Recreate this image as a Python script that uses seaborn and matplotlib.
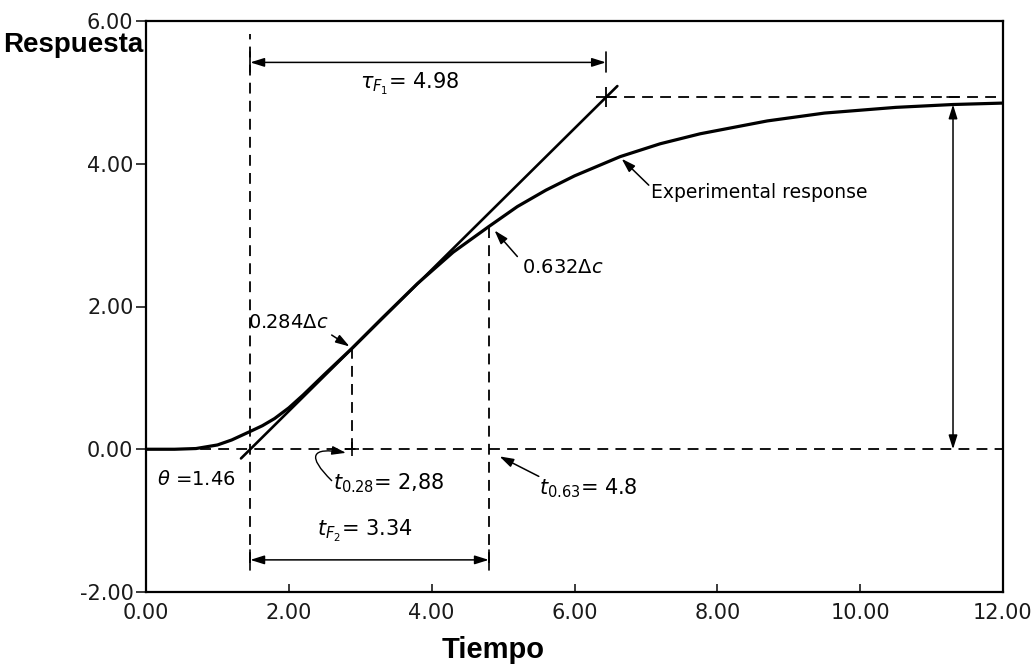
import numpy as np
import pandas as pd
import matplotlib
matplotlib.use("Agg")
import matplotlib.pyplot as plt
import seaborn as sns

# Process reaction curve (response vs. time)
time = [0.0, 0.4, 0.7, 1.0, 1.2, 1.46, 1.63, 1.8, 2.0, 2.2, 2.5, 2.88, 3.3,
        3.8, 4.3, 4.8, 5.2, 5.6, 6.0, 6.64, 7.2, 7.76, 8.7, 9.5, 10.5, 11.3,
        12.0]
response = [0.0, 0.0, 0.01, 0.06, 0.13, 0.25, 0.33, 0.43, 0.58, 0.76, 1.05,
            1.41, 1.83, 2.32, 2.76, 3.12, 3.40, 3.63, 3.83, 4.10, 4.28, 4.42,
            4.60, 4.71, 4.79, 4.83, 4.85]

# Characteristic values of the first-order-plus-dead-time fit
theta = 1.46        # dead time
tau_f1 = 4.98       # time constant (tangent method)
t_028 = 2.88
t_063 = 4.8
tau_f2 = 3.34       # t_0.63 - theta
delta_c = 4.93      # ultimate change read at the tangent
tangent_span = [1.33, 6.6]

x_ticks = [0, 2, 4, 6, 8, 10, 12]
y_ticks = [-2, 0, 2, 4, 6]

sns.set_theme(style="white")
plt.rcParams["font.family"] = ["DejaVu Sans"]
plt.rcParams["mathtext.fontset"] = "dejavusans"
plt.rcParams["text.color"] = "black"

fig = plt.figure(figsize=(10.36, 6.70), dpi=100)
ax = fig.add_axes([146 / 1036, 1 - 592 / 670, 857 / 1036, (592 - 21) / 670])

df = pd.DataFrame({"Tiempo": time, "Respuesta": response})
sns.lineplot(data=df, x="Tiempo", y="Respuesta", ax=ax, color="black",
             lw=2.3, sort=False)

slope = delta_c / tau_f1
tan_df = pd.DataFrame({"x": tangent_span,
                       "y": [slope * (v - theta) for v in tangent_span]})
sns.lineplot(data=tan_df, x="x", y="y", ax=ax, color="black", lw=1.9)

ax.set_xlim(0, 12)
ax.set_ylim(-2, 6)
ax.set_xticks(x_ticks)
ax.set_yticks(y_ticks)
ax.set_xticklabels([f"{v:.2f}" for v in x_ticks])
ax.set_yticklabels([f"{v:.2f}" for v in y_ticks])
ax.set_xlabel("")
ax.set_ylabel("")
for s in ax.spines.values():
    s.set_color("black")
    s.set_linewidth(1.6)
ax.tick_params(axis="x", direction="in", length=6, width=1.2, pad=8,
               labelsize=15, colors="#1a1a1a", bottom=True)
ax.tick_params(axis="y", direction="out", length=7, width=1.2, pad=2,
               labelsize=15, colors="#1a1a1a", left=True)

dash = dict(color="black", lw=1.3, ls=(0, (6, 4)))
ax.plot([0, 12], [0, 0], **dash)
ax.plot([theta, theta], [-1.6, 5.82], **dash)
ax.plot([t_028, t_028], [0, 0.284 * delta_c], **dash)
ax.plot([t_063, t_063], [-1.6, 0.632 * delta_c], **dash)
ax.plot([theta + tau_f1, 12], [delta_c, delta_c], **dash)

arrow = dict(arrowstyle="<|-|>,head_length=0.7,head_width=0.22",
             color="black", lw=1.1, shrinkA=0, shrinkB=0)
one_way = dict(arrowstyle="-|>,head_length=0.7,head_width=0.22",
               color="black", lw=1.1, shrinkA=0, shrinkB=0)

fs = 14

# tau_F1 span
y_top = 5.42
ax.annotate("", xy=(theta, y_top), xytext=(theta + tau_f1, y_top),
            arrowprops=arrow)
ax.plot([theta + tau_f1] * 2, [y_top - 0.14, y_top + 0.14], color="black", lw=1.2)
ax.plot([theta] * 2, [y_top - 0.14, y_top + 0.14], color="black", lw=1.2)
ax.text(3.0, 5.12, r"$\tau_{F_1}$= " + f"{tau_f1:.2f}", fontsize=fs + 1,
        ha="left", va="center")
ax.plot([theta + tau_f1], [delta_c], marker="+", ms=14, mew=1.3, color="black")

# tF2 span
y_bot = -1.55
ax.annotate("", xy=(theta, y_bot), xytext=(theta + tau_f2, y_bot),
            arrowprops=arrow)
for xv in (theta, theta + tau_f2):
    ax.plot([xv, xv], [y_bot - 0.14, y_bot + 0.14], color="black", lw=1.2)
ax.text(2.4, -1.15, r"$t_{F_2}$= " + f"{tau_f2:.2f}", fontsize=fs + 1,
        ha="left", va="center")

# ultimate change
x_dc = 11.3
ax.annotate("", xy=(x_dc, 4.83), xytext=(x_dc, 0.0), arrowprops=arrow)
ax.plot([x_dc - 0.08, x_dc + 0.08], [delta_c, delta_c], color="black", lw=1.2)

# labels with pointers
ax.text(1.25, -0.42, r"$\theta$ =" + f"{theta:.2f}", fontsize=fs,
        ha="right", va="center")
ax.plot([t_028], [0], marker="+", ms=10, mew=1.2, color="black")
ax.annotate("", xy=(t_028 - 0.08, -0.05), xytext=(2.6, -0.44),
            arrowprops=dict(arrowstyle="-|>,head_length=0.7,head_width=0.22",
                            color="black", lw=1.0, shrinkA=0, shrinkB=0,
                            connectionstyle="arc3,rad=-1.6"))
ax.text(2.62, -0.47, r"$t_{0.28}$= " + "2,88", fontsize=fs + 1,
        ha="left", va="center")

ax.annotate("", xy=(4.95, -0.1), xytext=(5.5, -0.38), arrowprops=one_way)
ax.text(5.5, -0.55, r"$t_{0.63}$= " + "4.8", fontsize=fs + 1,
        ha="left", va="center")

ax.annotate("", xy=(t_063 + 0.08, 0.632 * delta_c - 0.05), xytext=(5.2, 2.7),
            arrowprops=one_way)
ax.text(5.27, 2.55, r"0.632$\Delta c$", fontsize=fs, ha="left", va="center")

ax.annotate("", xy=(t_028 - 0.03, 0.284 * delta_c + 0.04), xytext=(2.6, 1.6),
            arrowprops=one_way)
ax.text(1.43, 1.78, r"0.284$\Delta c$", fontsize=fs, ha="left", va="center")

ax.annotate("", xy=(6.66, 4.07), xytext=(7.04, 3.7), arrowprops=one_way)
ax.text(7.07, 3.6, "Experimental response", fontsize=13.5, ha="left",
        va="center")

# axis titles
ax.text(-0.003, 0.958, "Respuesta", transform=ax.transAxes, ha="right",
        va="center", fontsize=20, fontweight="bold", family="Liberation Sans",
        color="black")
fig.text(493 / 1036, 1 - 650 / 670, "Tiempo", ha="center", va="center",
         fontsize=21, fontweight="bold", family="Liberation Sans",
         color="black")

fig.savefig("out.png", dpi=100)
